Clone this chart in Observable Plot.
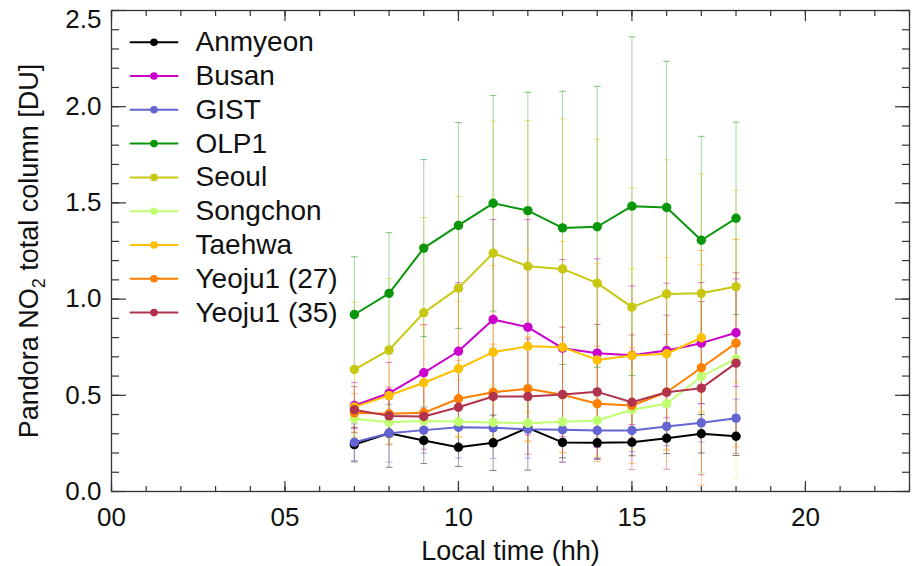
<!DOCTYPE html>
<html><head><meta charset="utf-8">
<script src="https://cdn.jsdelivr.net/npm/d3@7"></script>
<script src="https://cdn.jsdelivr.net/npm/@observablehq/plot@0.6"></script>
<style>
body{margin:0;background:#fff}
#chart svg{font-family:"Liberation Sans",Arial,Helvetica,sans-serif;background:#fff}
</style>
</head><body><div id="chart"></div>
<script>
// ---- data ----
const hours = [7,8,9,10,11,12,13,14,15,16,17,18];
const sites = ["Anmyeon","Busan","GIST","OLP1","Seoul","Songchon","Taehwa","Yeoju1 (27)","Yeoju1 (35)"];
const siteColors = ["#000000","#cc00cc","#6464d2","#0a960a","#c8c814","#c0ff70","#ffc000","#ff7f00","#b2334d"];

const anmyeon    = [0.244,0.303,0.265,0.230,0.253,0.331,0.255,0.253,0.256,0.277,0.300,0.287];
const anmyeonSd  = [0.090,0.177,0.120,0.100,0.144,0.220,0.080,0.080,0.070,0.080,0.100,0.100];
const busan      = [0.447,0.511,0.617,0.729,0.894,0.854,0.745,0.719,0.708,0.733,0.771,0.825];
const busanSd    = [0.120,0.160,0.250,0.356,0.520,0.560,0.460,0.490,0.360,0.350,0.315,0.280];
const gist       = [0.256,0.303,0.319,0.334,0.331,0.324,0.321,0.317,0.317,0.338,0.357,0.381];
const gistSd     = [0.095,0.150,0.120,0.160,0.160,0.150,0.170,0.150,0.110,0.100,0.100,0.100];
const olp1       = [0.920,1.030,1.265,1.383,1.498,1.460,1.370,1.376,1.483,1.476,1.306,1.420];
const olp1Sd     = [0.300,0.315,0.460,0.535,0.560,0.615,0.710,0.730,0.880,0.760,0.540,0.500];
const seoul      = [0.634,0.736,0.929,1.057,1.239,1.171,1.157,1.083,0.958,1.027,1.030,1.065];
const seoulSd    = [0.350,0.370,0.495,0.476,0.686,0.757,0.780,0.748,0.618,0.697,0.620,0.500];
const songchon   = [0.378,0.360,0.367,0.362,0.359,0.355,0.362,0.369,0.425,0.456,0.598,0.690];
const songchonSd = [0.080,0.080,0.080,0.080,0.100,0.100,0.120,0.130,0.200,0.300,0.500,0.620];
const taehwa     = [0.440,0.499,0.565,0.638,0.724,0.755,0.750,0.684,0.707,0.716,0.799];
const taehwaSd   = [0.200,0.250,0.300,0.350,0.450,0.500,0.550,0.500,0.450,0.500,0.380];
const yeoju27    = [0.409,0.404,0.409,0.482,0.516,0.534,0.503,0.456,0.447,0.516,0.643,0.771];
const yeoju27Sd  = [0.100,0.120,0.140,0.200,0.250,0.270,0.300,0.300,0.300,0.300,0.610,0.540];
const yeoju35    = [0.425,0.393,0.390,0.438,0.494,0.494,0.504,0.518,0.464,0.516,0.537,0.667];
const yeoju35Sd  = [0.120,0.150,0.170,0.200,0.250,0.300,0.350,0.350,0.350,0.400,0.450,0.470];

const xTickMajor = [0,5,10,15,20];
const yTickMajor = [0,0.5,1.0,1.5,2.0,2.5];
const xTitle = "Local time (hh)";
const yTitle = "Pandora NO2 total column [DU]";

// ---- build table ----
const means = [anmyeon,busan,gist,olp1,seoul,songchon,taehwa,yeoju27,yeoju35];
const sds   = [anmyeonSd,busanSd,gistSd,olp1Sd,seoulSd,songchonSd,taehwaSd,yeoju27Sd,yeoju35Sd];
const rows = sites.flatMap((s, k) => means[k].map((v, i) => ({site: s, hour: hours[i], value: v, sd: sds[k][i]})));

const barShape = {draw(c, l) { c.moveTo(0, 0); c.lineTo(0, -l); }};
const tickColor = "#333";
const font = 26;

const marks = [];
// error bars
marks.push(Plot.ruleX(rows, {x: "hour", y1: d => Math.max(0, d.value - d.sd), y2: d => d.value + d.sd, stroke: "site", strokeOpacity: 0.38, strokeWidth: 1}));
marks.push(Plot.vector(rows, {x: "hour", y: d => d.value + d.sd, length: 6, rotate: 90, anchor: "middle", shape: barShape, stroke: "site", strokeOpacity: 0.5, strokeWidth: 1}));
marks.push(Plot.vector(rows, {x: "hour", y: d => Math.max(0, d.value - d.sd), length: 6, rotate: 90, anchor: "middle", shape: barShape, stroke: "site", strokeOpacity: 0.5, strokeWidth: 1}));
// series
sites.forEach((s, k) => {
  const d = rows.filter(r => r.site === s);
  marks.push(Plot.line(d, {x: "hour", y: "value", stroke: siteColors[k], strokeWidth: 2}));
  marks.push(Plot.dot(d, {x: "hour", y: "value", fill: siteColors[k], r: 4.7}));
});
// axes: tick labels
marks.push(Plot.axisX({anchor: "bottom", ticks: xTickMajor, tickSize: 0, tickPadding: 16, tickFormat: d3.format("02d"), fontSize: font, fill: "#111", label: null}));
marks.push(Plot.axisX({anchor: "bottom", ticks: [], tickSize: 0, fontSize: 27, fill: "#111", label: xTitle, labelAnchor: "center", labelOffset: 68, labelArrow: "none"}));
marks.push(Plot.axisY({anchor: "left", ticks: yTickMajor.slice(0, 5), tickSize: 0, tickPadding: 10, tickFormat: d3.format(".1f"), fontSize: font, fill: "#111", label: null}));
marks.push(Plot.axisY({anchor: "left", ticks: yTickMajor.slice(5), tickSize: 0, tickPadding: 10, dy: 9, tickFormat: d3.format(".1f"), fontSize: font, fill: "#111", label: null}));
marks.push(Plot.axisY({anchor: "left", ticks: [], tickSize: 0, fontSize: 27, fill: "#111", label: yTitle, labelAnchor: "center", labelOffset: 93, labelArrow: "none"}));
// axes: inward ticks
for (const anchor of ["bottom", "top"]) {
  marks.push(Plot.axisX({anchor, ticks: xTickMajor, tickSize: -10, tickFormat: () => "", stroke: tickColor, strokeWidth: 1.2, label: null}));
  marks.push(Plot.axisX({anchor, ticks: d3.range(0, 24), tickSize: -5, tickFormat: () => "", stroke: tickColor, strokeWidth: 1.2, label: null}));
}
for (const anchor of ["left", "right"]) {
  marks.push(Plot.axisY({anchor, ticks: yTickMajor, tickSize: -15, tickFormat: () => "", stroke: tickColor, strokeWidth: 1.2, label: null}));
  marks.push(Plot.axisY({anchor, ticks: d3.range(0, 26).map(i => i / 10), tickSize: -8, tickFormat: () => "", stroke: tickColor, strokeWidth: 1.2, label: null}));
}
marks.push(Plot.frame({stroke: tickColor, strokeWidth: 1.3}));
// legend
sites.forEach((s, k) => {
  const dy = 31.7 + 33.8 * k;
  marks.push(Plot.vector([s], {frameAnchor: "top-left", dx: 42.5, dy, length: 47, rotate: 90, anchor: "middle", shape: barShape, stroke: siteColors[k], strokeWidth: 2}));
  marks.push(Plot.dot([s], {frameAnchor: "top-left", dx: 42.5, dy, r: 3.8, fill: siteColors[k]}));
  marks.push(Plot.text([s], {frameAnchor: "top-left", dx: 84, dy, text: d => d, textAnchor: "start", lineAnchor: "middle", fontSize: 28, fill: "#111"}));
});

const chart = Plot.plot({
  width: 914, height: 566,
  marginLeft: 111, marginRight: 5, marginTop: 10, marginBottom: 75,
  x: {domain: [0, 23]},
  y: {domain: [0, 2.5]},
  color: {domain: sites, range: siteColors},
  marks
});
document.getElementById("chart").appendChild(chart);

// subscript in y label
chart.querySelectorAll('[aria-label="y-axis label"] text').forEach(lbl => {
  if (!lbl.textContent.includes("NO2")) return;
  const sel = d3.select(lbl);
  sel.text(null);
  sel.append("tspan").text("Pandora NO");
  sel.append("tspan").attr("font-size", 18).attr("dy", 7).text("2");
  sel.append("tspan").attr("dy", -7).text(" total column [DU]");
});
</script>
</body></html>
